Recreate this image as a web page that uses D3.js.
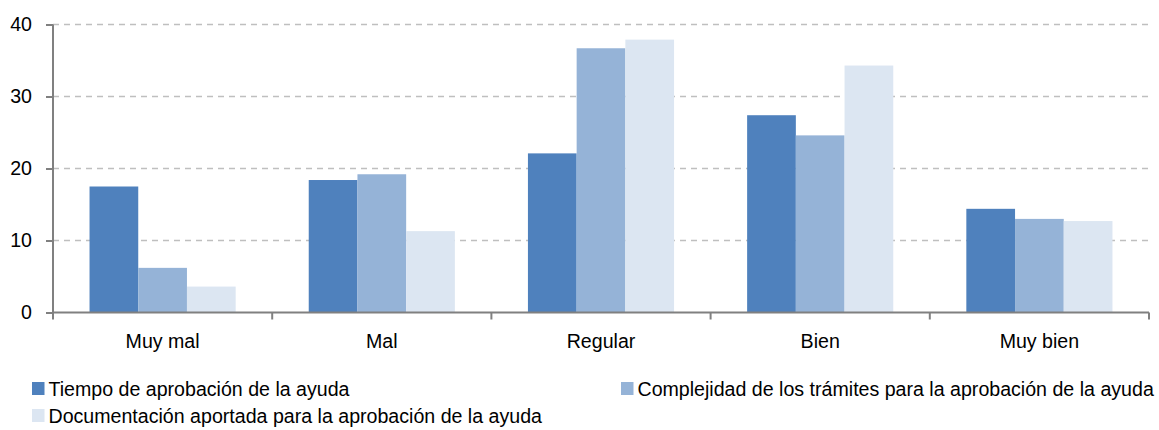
<!DOCTYPE html>
<html>
<head>
<meta charset="utf-8">
<script src="https://cdn.jsdelivr.net/npm/d3@7"></script>
<style>
  body { margin: 0; background: #fff; }
  svg text { font-family: "Liberation Sans", Arial, sans-serif; fill: #000; }
</style>
</head>
<body>
<svg id="svg" width="1159" height="430"></svg>
<script>
var categories = ["Muy mal", "Mal", "Regular", "Bien", "Muy bien"];
var seriesNames = [
  "Tiempo de aprobación de la ayuda",
  "Complejidad de los trámites para la aprobación de la ayuda",
  "Documentación aportada para la aprobación de la ayuda"
];
var tiempo = [17.5, 18.4, 22.1, 27.4, 14.4];
var complejidad = [6.2, 19.2, 36.7, 24.6, 13.0];
var documentacion = [3.6, 11.3, 37.9, 34.3, 12.7];
var yTicks = [0, 10, 20, 30, 40];

var colors = ["#4f81bd", "#95b3d7", "#dce6f2"];
var series = [tiempo, complejidad, documentacion];

var svg = d3.select("#svg");
var plotLeft = 53, plotRight = 1149, plotTop = 24.5, plotBottom = 312.5;

var x = d3.scaleBand().domain(categories).range([plotLeft, plotRight]).padding(0);
// 3 bars per group, 0.75 bar width empty on each side
var x1 = d3.scaleBand().domain(d3.range(series.length))
  .range([x.bandwidth() * 0.75 / 4.5, x.bandwidth() * 3.75 / 4.5]).padding(0);

var y = d3.scaleLinear().domain([0, 40]).range([plotBottom, plotTop]);

// gridlines
svg.append("g")
  .selectAll("line")
  .data(yTicks.filter(function(d){ return d > 0; }))
  .enter().append("line")
  .attr("x1", plotLeft).attr("x2", plotRight)
  .attr("y1", function(d){ return y(d); })
  .attr("y2", function(d){ return y(d); })
  .attr("stroke", "#bfbfbf")
  .attr("stroke-width", 1.3)
  .attr("stroke-dasharray", "6,5");

// bars
series.forEach(function(s, i) {
  svg.append("g")
    .selectAll("rect")
    .data(s)
    .enter().append("rect")
    .attr("x", function(d, j){ return x(categories[j]) + x1(i); })
    .attr("width", x1.bandwidth())
    .attr("y", function(d){ return y(d); })
    .attr("height", function(d){ return y(0) - y(d); })
    .attr("fill", colors[i]);
});

// y axis
var yAxis = svg.append("g")
  .attr("transform", "translate(" + plotLeft + ",0)")
  .call(d3.axisLeft(y).tickValues(yTicks).tickSize(7).tickPadding(14));
yAxis.select(".domain").attr("stroke", "#808080").attr("stroke-width", 2)
  .attr("d", "M0," + plotTop + "V" + plotBottom);
yAxis.selectAll(".tick line").attr("stroke", "#808080").attr("stroke-width", 2);
yAxis.selectAll("text").style("font-size", "19.6px").attr("fill", "#000");

// x axis
var xAxis = svg.append("g")
  .attr("transform", "translate(0," + plotBottom + ")")
  .call(d3.axisBottom(x).tickSize(0).tickPadding(22));
xAxis.select(".domain").attr("stroke", "#808080").attr("stroke-width", 2)
  .attr("d", "M" + plotLeft + ",0H" + plotRight);
xAxis.selectAll("text").style("font-size", "19.6px").attr("fill", "#000");

// x tick marks at category boundaries
svg.append("g")
  .selectAll("line")
  .data(d3.range(categories.length + 1))
  .enter().append("line")
  .attr("x1", function(i){ return plotLeft + i * x.step(); })
  .attr("x2", function(i){ return plotLeft + i * x.step(); })
  .attr("y1", plotBottom).attr("y2", plotBottom + 7)
  .attr("stroke", "#808080").attr("stroke-width", 2);

// legend
var legendPos = [[32, 396], [621, 396], [32, 423]];
var legend = svg.append("g")
  .selectAll("g")
  .data(seriesNames)
  .enter().append("g")
  .attr("transform", function(d, i){ return "translate(" + legendPos[i][0] + "," + legendPos[i][1] + ")"; });
legend.append("rect")
  .attr("x", 0).attr("y", -14).attr("width", 12.5).attr("height", 13)
  .attr("fill", function(d, i){ return colors[i]; });
legend.append("text")
  .attr("x", 16.5).attr("y", 0)
  .style("font-size", "19.6px")
  .text(function(d){ return d; });
</script>
</body>
</html>
